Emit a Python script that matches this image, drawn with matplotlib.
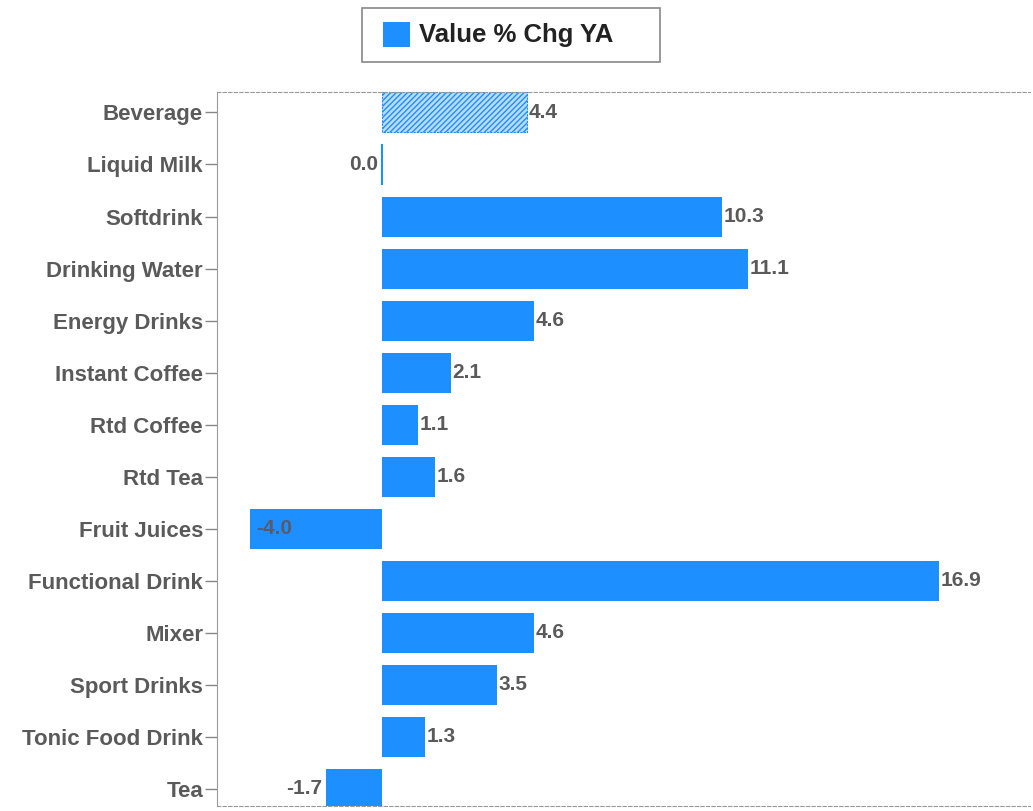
import numpy as np
import matplotlib.pyplot as plt
from matplotlib.patches import Rectangle

# categories and values
categories = ['Beverage', 'Liquid Milk', 'Softdrink', 'Drinking Water', 'Energy Drinks',
              'Instant Coffee', 'Rtd Coffee', 'Rtd Tea', 'Fruit Juices', 'Functional Drink',
              'Mixer', 'Sport Drinks', 'Tonic Food Drink', 'Tea']
values = [4.4, 0.0, 10.3, 11.1, 4.6, 2.1, 1.1, 1.6, -4.0, 16.9, 4.6, 3.5, 1.3, -1.7]
legend_label = 'Value % Chg YA'

blue = '#1e8fff'
label_color = '#5a5a5a'
font = 'Liberation Sans'

fig = plt.figure(figsize=(10.33, 8.11), dpi=100)
ax = fig.add_axes([0.21, 0.006, 0.787, 0.881])

y = np.arange(len(categories))
bars = ax.barh(y, values, height=0.77, color=blue, zorder=2)

# total bar is hatched
bars[0].set_facecolor('#b9dcfb')
bars[0].set_edgecolor(blue)
bars[0].set_hatch('//////')
bars[0].set_linestyle((0, (2, 1)))
bars[0].set_linewidth(0.8)
bars[1].set_linewidth(1.5)
bars[1].set_edgecolor(blue)

for i, v in enumerate(values):
    txt = f'{v:.1f}'
    if v < -3:
        ax.text(v + 0.2, i, txt, va='center', ha='left', fontsize=15,
                fontweight='bold', color='#5a5a6a', family=font)
    elif v <= 0:
        ax.text(v - 0.1, i, txt, va='center', ha='right', fontsize=15,
                fontweight='bold', color=label_color, family=font)
    else:
        ax.text(v + 0.05, i, txt, va='center', ha='left', fontsize=15,
                fontweight='bold', color=label_color, family=font)

ax.set_xlim(-5.0, 19.65)
ax.set_ylim(len(categories) - 0.67, -0.4)
ax.set_xticks([])
ax.set_yticks(y)
ax.set_yticklabels(categories, fontsize=16, fontweight='bold', color=label_color,
                   family=font)
ax.tick_params(axis='y', length=9, width=1, color='#888888', pad=1)

ax.spines['right'].set_visible(False)
ax.spines['left'].set_color('#999999')
for s in ['top', 'bottom']:
    ax.spines[s].set_linestyle((0, (3, 2)))
    ax.spines[s].set_color('#999999')
    ax.spines[s].set_linewidth(0.8)

# legend box drawn by hand to match its placement
fig.patches.append(Rectangle((0.3504, 0.9236), 0.2885, 0.0666, transform=fig.transFigure,
                             facecolor='white', edgecolor='#888888', linewidth=1.2))
fig.patches.append(Rectangle((0.3708, 0.942), 0.0261, 0.0308, transform=fig.transFigure,
                             facecolor=blue, edgecolor='none'))
fig.text(0.4056, 0.9568, legend_label, va='center', ha='left', fontsize=18.5,
         fontweight='bold', color='#222222', family=font)

fig.savefig('out.png', dpi=100)
